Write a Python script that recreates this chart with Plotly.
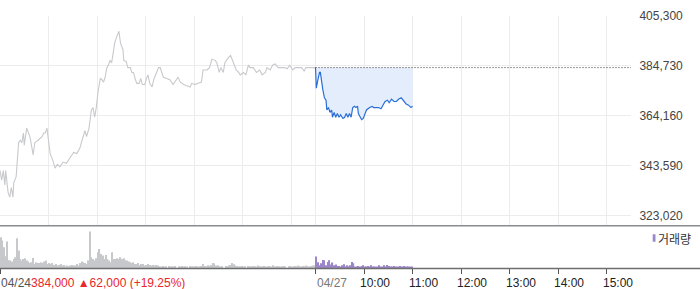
import plotly.graph_objects as go

# ---------------- data ----------------
prev_close = 384000

prev_times = ["09:00","09:02","09:04","09:06","09:07","09:10","09:12","09:14","09:16","09:17",
              "09:20","09:23","09:25","09:27","09:29","09:30","09:33","09:37","09:41","09:43",
              "09:47","09:52","09:54","09:56","09:58","10:00","10:02","10:05","10:08","10:11",
              "10:14","10:18","10:22","10:27","10:31","10:35","10:39","10:41","10:43","10:45",
              "10:47","10:50","10:53","10:55","10:57","10:59","11:01","11:04","11:06","11:08",
              "11:10","11:12","11:14","11:16","11:18","11:20","11:22","11:24","11:26","11:27",
              "11:29","11:32","11:33","11:36","11:38","11:41","11:43","11:45","11:47","11:49",
              "11:52","11:54","11:56","11:59","12:01","12:03","12:05","12:08","12:10","12:14",
              "12:16","12:18","12:20","12:22","12:26","12:30","12:34","12:38","12:40","12:43",
              "12:47","12:51","12:55","12:57","13:01","13:05","13:09","13:11","13:16","13:19",
              "13:22","13:26","13:28","13:31","13:33","13:36","13:38","13:42","13:45","13:48",
              "13:52","13:55","13:57","14:01","14:04","14:07","14:09","14:13","14:17","14:21",
              "14:24","14:28","14:30","14:34","14:37","14:40","14:44","14:48","14:52","14:55",
              "14:58","15:02","15:05","15:09","15:13","15:16","15:18","15:23","15:30"]
prev_prices = [341500,337500,341500,335500,341500,332500,330500,334500,330500,336500,
               339000,353000,354000,353000,357000,352000,359000,355500,348000,353000,
               354000,355500,357000,357000,359000,353000,348500,346000,342500,344000,
               343000,345000,344500,347000,349000,348500,351000,353500,355500,358000,
               355500,359000,366500,367500,363500,367500,373500,379500,379000,378000,
               380000,384000,385000,387000,386000,391500,394500,396500,398500,399000,
               394000,391500,387000,386500,384000,384000,382000,382000,379500,377500,
               377500,379500,377000,377000,379500,381000,377500,376000,379000,382000,
               384000,384000,382000,380000,379500,379000,377000,379000,380000,378000,
               377000,376500,376000,377500,377000,377500,378000,383000,383000,384000,
               387500,387000,386000,382000,384000,382000,386000,388000,389000,386500,
               383000,382000,381000,382000,381000,385000,384000,384000,382000,383000,
               381000,382000,384000,383000,385000,385500,384000,384000,384000,383500,
               385000,383000,384000,384000,384000,382500,384000,384000,384000]

today_times = ["09:00","09:01","09:03","09:05","09:06","09:08","09:09","09:11","09:13","09:14",
               "09:16","09:18","09:20","09:21","09:23","09:25","09:27","09:29","09:31","09:34",
               "09:36","09:38","09:40","09:42","09:44","09:46","09:48","09:50","09:52","09:53",
               "09:55","09:57","09:59","10:01","10:03","10:07","10:10","10:12","10:15","10:18",
               "10:21","10:24","10:26","10:29","10:31","10:34","10:37","10:40","10:43","10:46",
               "10:49","10:52","10:55","10:58","11:00"]
today_prices = [384000,375500,379000,382000,382000,376000,375000,371500,370500,366500,
                367500,365500,366500,363500,365500,363500,365000,363500,364500,363000,
                363500,365000,363500,365000,363500,367500,368000,367500,368000,365000,
                363500,362500,363000,365000,366500,367500,368000,367500,367500,367500,
                367000,368500,370000,370500,369500,371000,370000,370000,371000,371500,
                370000,369000,368500,367500,368000]

# volume in thousand shares, 2-minute buckets
vol_prev_k = [31, 27.7, 21, 12, 26.7, 8, 7.7, 6.7, 9.3, 11, 30, 17.7, 9.3, 7.7, 9.3, 10, 7.7, 6.7, 5.3, 6,
              10.3, 4.3, 6, 5.3, 5.3, 6, 5.3, 6.7, 7.7, 4.3, 5.3, 4.3, 5.3, 3.3, 4.3, 2.7, 3.3, 4.3, 2.7, 3.3,
              2, 2.7, 2, 2.7, 3.3, 2.7, 2.7, 4.3, 2.7, 5.3, 6.7, 6, 5.3, 4.3, 7.7, 36.7, 11, 9.3, 7.7, 10,
              16, 19.3, 14.3, 12.7, 9.3, 13.3, 9.3, 7.7, 6, 16, 9.3, 9.3, 10, 9.3, 11, 9.3, 10, 8, 7.7, 6.7,
              6, 5.3, 6, 4.3, 4.3, 5.3, 3.3, 4.3, 4.3, 2.7, 3.3, 4.3, 3.3, 2.7, 3.3, 2.7, 3.3, 2.7,
              2, 1.7, 2.3, 1.7, 2, 0, 2.3, 1.7, 2, 1.7, 2.3, 0, 2, 1.7, 2.3, 1.7, 2, 1.7, 0, 2.3, 2, 1.7, 2, 2.3, 1.7, 2, 2.3,
              4.3, 2.3, 2, 3, 2.3, 3.3, 5.3, 4.7, 2.7, 3, 2,
              1.7, 2, 0, 2.3, 2, 2.7,
              3.3, 5.3, 4, 2.7, 2.3,
              1.7, 2, 2.3, 1.7, 2, 0, 2.3, 2, 1.7, 2.3, 2, 1.7, 2.7, 2, 1.7, 2, 2.3, 1.7, 2, 2.3, 1.7,
              3, 2, 1.7, 2.3, 2, 1.7, 2, 2.3, 1.7, 0, 2, 2.3, 1.7, 2, 2.3, 2,
              2.7, 2, 1.7, 2.3, 2, 2.7, 2, 1.7, 2.3, 2.7, 3]
vol_today_k = [11.7, 6, 3, 5, 8.3, 8, 3, 6.3, 8, 3.7,
               5.7, 3, 3.7, 2.3, 2.3, 1.7, 3, 4, 1.7, 3,
               2, 3, 6.3, 5, 1.7, 1.7, 2.3, 1.7, 2.3, 3,
               1.7, 1.7, 2.3, 1.7, 3, 1.7, 1.7, 1.7, 1.7, 3,
               1.7, 1.7, 3, 1.7, 3.3, 2.3, 1.7, 1.7, 2.3, 1.7,
               1.7, 1.7, 2.3, 1.7, 2.3, 1.7, 1.7, 1.7, 1.7, 1.7]

price_ticks = [323020, 343590, 364160, 384730, 405300]
prev_grid_times = ["09:00", "10:00", "11:00", "12:00", "13:00", "14:00", "15:00"]
today_label_times = ["09:00", "10:00", "11:00", "12:00", "13:00", "14:00", "15:00"]
today_labels = ["04/27", "10:00", "11:00", "12:00", "13:00", "14:00", "15:00"]
prev_label = "04/24"
prev_summary = "384,000 ▲62,000 (+19.25%)"
legend_label = "거래량"

SESSION = 390  # minutes per session (09:00-15:30)


def to_min(s, day):
    h, m = map(int, s.split(":"))
    return day * SESSION + (h - 9) * 60 + m


px_prev = [to_min(t, 0) for t in prev_times]
px_today = [to_min(t, 1) for t in today_times]
vx_prev = [2 * i + 1 for i in range(len(vol_prev_k))]
vx_today = [SESSION + 2 * i + 1 for i in range(len(vol_today_k))]

grid_vals = [to_min(t, 0) for t in prev_grid_times] + [to_min(t, 1) for t in today_label_times]
vol_tick_vals = [0] + [to_min(t, 1) for t in today_label_times]

H = 289
W_PLOT = 631
FONT = "Liberation Sans, Arial, sans-serif"

fig = go.Figure()
fig.add_trace(go.Scatter(x=px_prev, y=prev_prices, mode="lines",
                         line=dict(color="#c8c9cd", width=1.1), hoverinfo="skip",
                         xaxis="x", yaxis="y"))
fig.add_trace(go.Scatter(x=px_today, y=[prev_close] * len(px_today), mode="lines",
                         line=dict(width=0, color="rgba(0,0,0,0)"), hoverinfo="skip",
                         xaxis="x", yaxis="y"))
fig.add_trace(go.Scatter(x=px_today, y=today_prices, mode="lines", fill="tonexty",
                         fillcolor="#e4edfb", line=dict(color="#2a6fd8", width=1.2),
                         hoverinfo="skip", xaxis="x", yaxis="y"))
fig.add_trace(go.Scatter(x=[SESSION, 2 * SESSION], y=[prev_close, prev_close], mode="lines",
                         line=dict(color="#333333", width=1, dash="1px,2px"), hoverinfo="skip",
                         xaxis="x", yaxis="y"))
fig.add_trace(go.Bar(x=vx_prev, y=vol_prev_k, width=1.5, marker=dict(color="#c6c8cc", line=dict(width=0)),
                     hoverinfo="skip", xaxis="x2", yaxis="y2"))
fig.add_trace(go.Bar(x=vx_today, y=vol_today_k, width=1.5, marker=dict(color="#9b86c9", line=dict(width=0)),
                     hoverinfo="skip", xaxis="x2", yaxis="y2"))

price_dom = [1 - 225.3 / H, 1 - 16 / H]
vol_dom = [1 - 268.3 / H, 1 - 226 / H]

fig.update_layout(
    width=700, height=H,
    margin=dict(l=0, r=700 - W_PLOT, t=0, b=0, pad=0, autoexpand=False),
    paper_bgcolor="white", plot_bgcolor="white",
    showlegend=False, barmode="overlay",
    font=dict(family=FONT, size=12, color="#444"),
    xaxis=dict(domain=[0, 1], range=[0, 2 * SESSION], tickvals=grid_vals, showticklabels=False,
               showgrid=True, gridcolor="#ececec", gridwidth=1, zeroline=False, ticks="",
               showline=False, anchor="y", automargin=False),
    yaxis=dict(domain=price_dom, range=[318890, 405300], side="right", tickvals=price_ticks,
               ticktext=[f"{v:,}" for v in price_ticks], showgrid=True, gridcolor="#ececec",
               zeroline=False, ticks="outside", ticklen=5, tickcolor="rgba(0,0,0,0)",
               tickfont=dict(size=12, color="#444", family=FONT), showline=False, anchor="x",
               automargin=False),
    xaxis2=dict(domain=[0, 1], range=[0, 2 * SESSION], tickvals=vol_tick_vals, showticklabels=False,
                ticks="outside", ticklen=5, tickcolor="#555", tickwidth=1, showgrid=False,
                zeroline=False, showline=False, anchor="y2", automargin=False),
    yaxis2=dict(domain=vol_dom, range=[0, 42.3], visible=False, anchor="x2", automargin=False),
)

# panel separator lines spanning full width
fig.add_shape(type="line", xref="paper", yref="paper", x0=0, x1=700 / W_PLOT,
              y0=1 - 225.8 / H, y1=1 - 225.8 / H, line=dict(color="#878c92", width=1.5))
fig.add_shape(type="line", xref="paper", yref="paper", x0=0, x1=700 / W_PLOT,
              y0=1 - 268.6 / H, y1=1 - 268.6 / H, line=dict(color="#6e6e6e", width=1.5))

label_y = 1 - 283 / H
fig.add_annotation(x=0, xref="x2", y=label_y, yref="paper", xanchor="left", yanchor="middle",
                   xshift=-1, showarrow=False,
                   text=f"<span style='color:#555'>{prev_label}</span>"
                        f"<span style='color:#e8262b'>{prev_summary}</span>",
                   font=dict(size=12, family=FONT))
for i, (t, lab) in enumerate(zip(today_label_times, today_labels)):
    fig.add_annotation(x=to_min(t, 1), xref="x2", y=label_y, yref="paper",
                       xanchor="left", yanchor="middle", showarrow=False,
                       xshift=-1 if i == 0 else -6, text=lab,
                       font=dict(size=12, family=FONT, color="#777" if i == 0 else "#222"))

# legend marker + label
fig.add_shape(type="rect", xref="paper", yref="paper", x0=652.7 / W_PLOT, x1=655.5 / W_PLOT,
              y0=1 - 241.7 / H, y1=1 - 234.3 / H, line=dict(width=0), fillcolor="#9b86c9")
fig.add_annotation(x=656 / W_PLOT, xref="paper", y=1 - 238 / H, yref="paper", xanchor="left",
                   yanchor="middle", showarrow=False, text=legend_label,
                   font=dict(size=12, family="Noto Sans CJK KR", color="#333"))

fig.write_html("out.html")
